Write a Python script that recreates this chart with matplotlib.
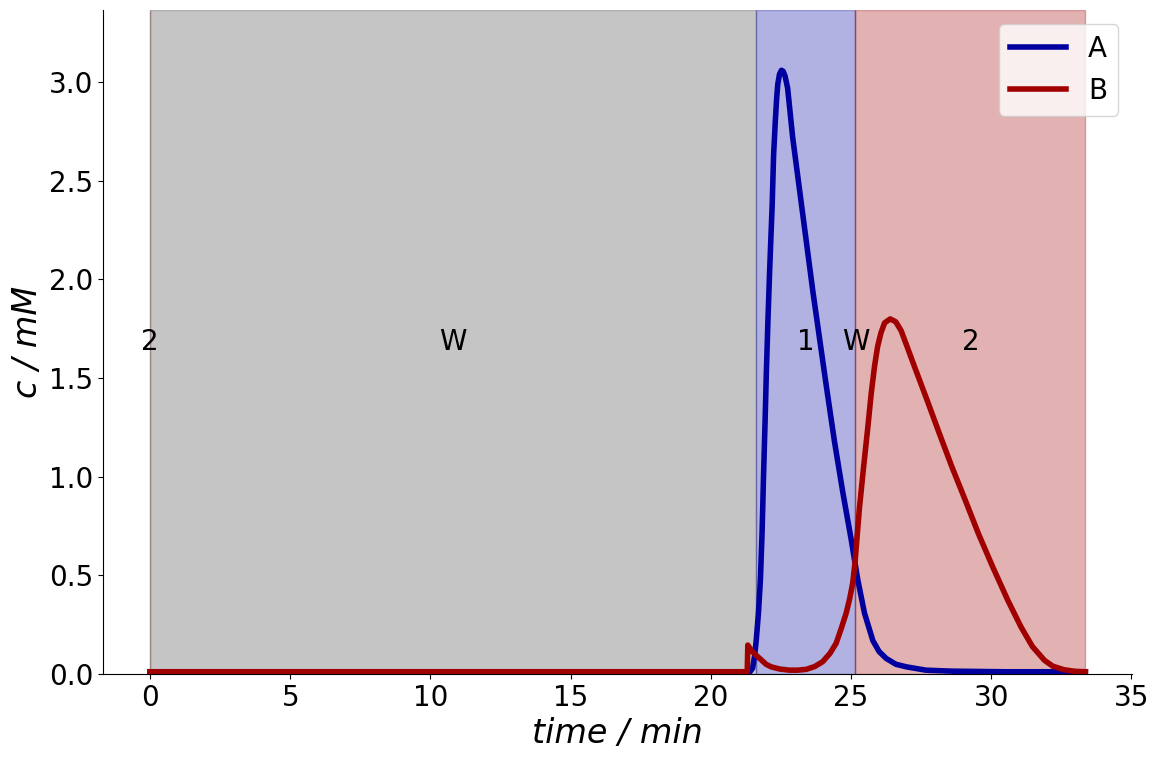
import matplotlib
matplotlib.use("Agg")
import matplotlib.pyplot as plt

# valve sequence: label, start, end (min)
seg_labels = ["2", "W", "1", "W", "2"]
seg_start = [0.0, 0.0, 21.63, 25.16, 25.16]
seg_end = [0.0, 21.63, 25.16, 25.16, 33.36]
seg_colors = {"W": "#404040", "1": "#0000a0", "2": "#a00000"}

# species A
t_A = [0, 21.40, 21.49, 21.56, 21.62, 21.70, 21.77, 21.83, 21.88, 21.94, 21.98,
       22.04, 22.10, 22.19, 22.24, 22.30, 22.35, 22.39, 22.45, 22.52, 22.58,
       22.65, 22.74, 22.92, 23.16, 23.40, 23.64, 23.88, 24.11, 24.41, 24.71,
       25.01, 25.24, 25.48, 25.78, 26.00, 26.25, 26.60, 26.97, 27.67, 28.60,
       30.50, 33.36]
c_A = [0.012, 0.012, 0.03, 0.09, 0.17, 0.31, 0.48, 0.72, 1.00, 1.30, 1.52,
       1.80, 2.05, 2.38, 2.63, 2.80, 2.92, 2.99, 3.04, 3.06, 3.055,
       3.03, 2.97, 2.72, 2.46, 2.20, 1.94, 1.70, 1.47, 1.18, 0.92,
       0.68, 0.48, 0.31, 0.17, 0.115, 0.08, 0.05, 0.037, 0.02, 0.015,
       0.012, 0.012]

# species B
t_B = [0, 21.30, 21.32, 21.40, 21.49, 21.62, 21.74, 21.97, 22.15, 22.45, 22.81,
       23.10, 23.40, 23.70, 23.99, 24.25, 24.47, 24.65, 24.83, 24.95, 25.06,
       25.14, 25.22, 25.30, 25.45, 25.60, 25.72, 25.84, 25.95, 26.07, 26.20,
       26.40, 26.60, 26.79, 27.00, 27.26, 27.71, 28.15, 28.60, 29.08, 29.55,
       30.05, 30.59, 31.06, 31.47, 31.90, 32.20, 32.60, 33.00, 33.36]
c_B = [0.012, 0.012, 0.147, 0.13, 0.113, 0.095, 0.08, 0.05, 0.037, 0.026, 0.02,
       0.02, 0.024, 0.038, 0.063, 0.105, 0.156, 0.23, 0.31, 0.38, 0.46,
       0.56, 0.70, 0.84, 1.05, 1.25, 1.42, 1.56, 1.66, 1.73, 1.78,
       1.80, 1.785, 1.74, 1.66, 1.56, 1.39, 1.22, 1.05, 0.88, 0.71,
       0.545, 0.375, 0.24, 0.14, 0.07, 0.04, 0.022, 0.014, 0.012]

fig, ax = plt.subplots(figsize=(11.6, 7.6), dpi=100)
fig.subplots_adjust(left=0.089, right=0.976, top=0.987, bottom=0.113)

ymax = 1.1 * max(max(c_A), max(c_B))

for lab, a, b in zip(seg_labels, seg_start, seg_end):
    ax.axvspan(a, b, color=seg_colors[lab], alpha=0.3)
    ax.text((a + b) / 2, ymax / 2, lab, ha="center", va="center", fontsize=20)

ax.plot(t_A, c_A, color="#0000a0", lw=4, label="A")
ax.plot(t_B, c_B, color="#a00000", lw=4, label="B")

ax.set_ylim(0, ymax)
ax.set_xlabel("time / min", fontsize=24, style="italic")
ax.set_ylabel("c / mM", fontsize=24, style="italic")
ax.tick_params(labelsize=20)
ax.spines["top"].set_visible(False)
ax.spines["right"].set_visible(False)
ax.legend(loc="upper right", fontsize=20)

fig.savefig("out.png")
